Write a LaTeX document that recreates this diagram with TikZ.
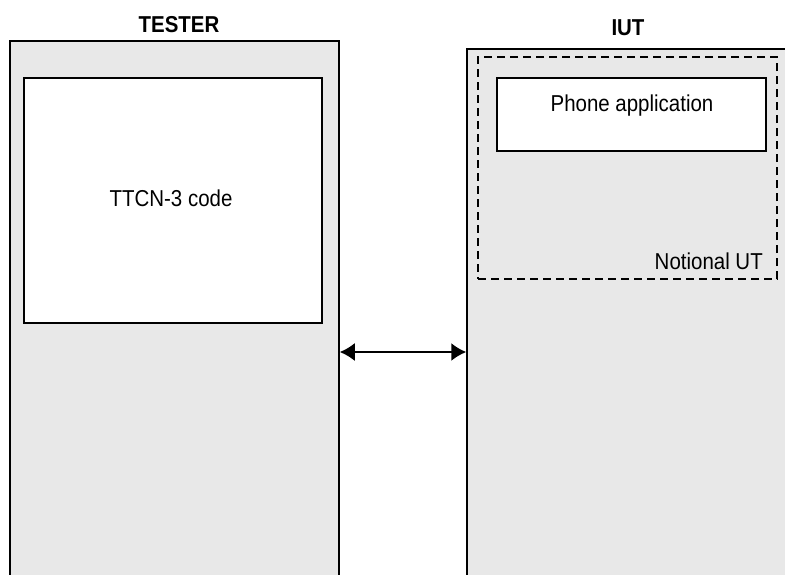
\documentclass[tikz,border=0pt]{standalone}
\usepackage{fontspec}
\setmainfont{Liberation Sans}[FakeStretch=0.89]
\usepackage{xcolor}
\usepackage{tikz}
\usetikzlibrary{arrows.meta}

\definecolor{boxgray}{HTML}{E8E8E8}

\tikzset{
	side/.style={draw,fill=boxgray,line width=1.5pt,minimum width=#1,minimum height=600pt,inner sep=0pt},
	inbox/.style={draw,fill=white,line width=1.2pt,inner sep=0pt},
	title/.style={font=\fontsize{23}{27}\selectfont\bfseries,inner sep=0pt,anchor=base},
	txt/.style={font=\fontsize{23}{27}\selectfont,inner sep=0pt,anchor=base},
	link/.style={{Latex[length=15pt,width=18pt]}-{Latex[length=15pt,width=18pt]},line width=1.8pt}
}

\begin{document}
\begin{tikzpicture}[x=1pt,y=-1pt]
		\useasboundingbox (0,0) rectangle (785,574);
		\clip (0,0) rectangle (785,574);
		%
		\node[title] (testerT) at (179,32.7) {TESTER};
		\node[title] (iutT) at (628,35) {IUT};
		%
		\node[side=329pt] (tester) at (174.5,341) {};
		\node[side=400pt] (iut) at (667,349) {};
		%
		\node[inbox,minimum width=298pt,minimum height=245pt] (ttcn) at (173,200.5) {};
		\node[txt] (ttcnT) at (171,206) {TTCN-3 code};
		%
		\node[draw,line width=1.2pt,dash pattern=on 8pt off 5pt,minimum width=299pt,minimum height=222pt,inner sep=0pt] (notional) at (627.5,168) {};
		\node[inbox,minimum width=269pt,minimum height=73pt] (phone) at (631.5,114.5) {};
		\node[txt] (phoneT) at (632,111) {Phone application};
		\node[txt,anchor=base east] (notionalT) at (763,269) {Notional UT};
		%
		\coordinate (arrowy) at (400,352);
		\draw[link] (tester.east |- arrowy) -- (iut.west |- arrowy);
		\end{tikzpicture}
\end{document}
